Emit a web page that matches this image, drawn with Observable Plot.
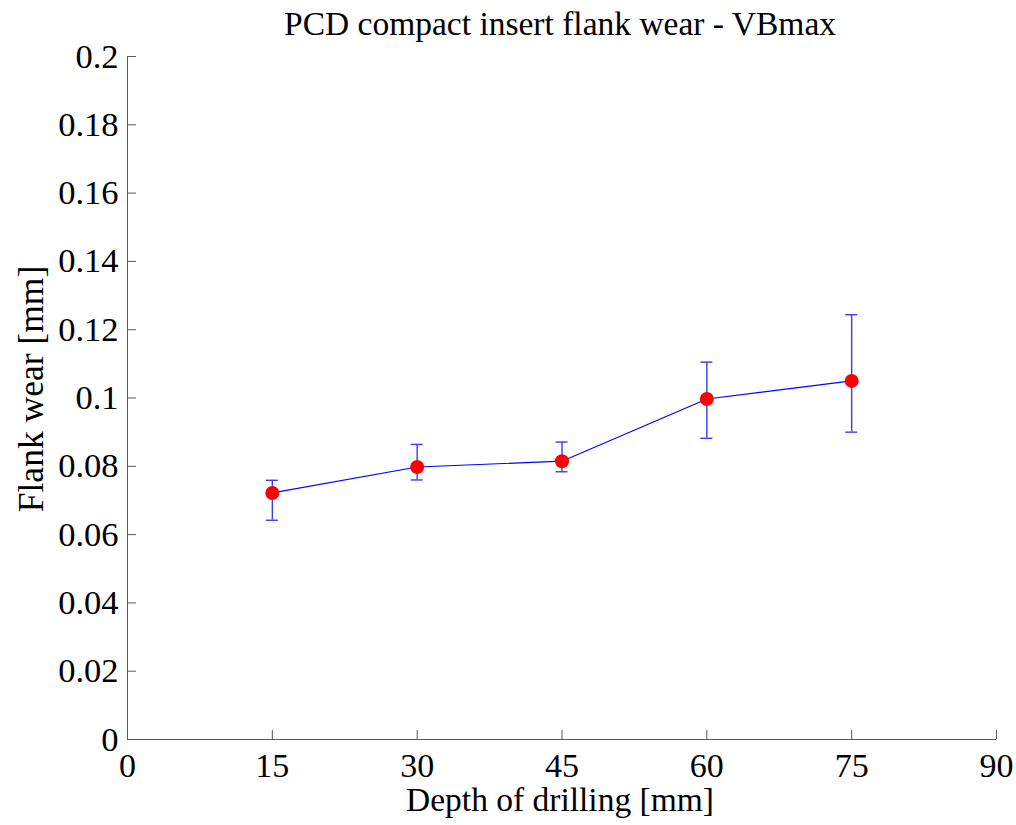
<!DOCTYPE html>
<html>
<head>
<meta charset="utf-8">
<script src="https://cdn.jsdelivr.net/npm/d3@7"></script>
<script src="https://cdn.jsdelivr.net/npm/@observablehq/plot@0.6"></script>
<style>
  body { margin: 0; background: #fff; }
  #chart { width: 1016px; }
</style>
</head>
<body>
<div id="chart"></div>
<script>
// Drilling depth [mm] and measured maximum flank wear VBmax [mm]
const depth = [15, 30, 45, 60, 75];
const wear = [0.0722, 0.0798, 0.0815, 0.0997, 0.1050];
const wearHigh = [0.0759, 0.0864, 0.0871, 0.1105, 0.1244];
const wearLow = [0.0642, 0.0760, 0.0784, 0.0882, 0.0900];

const xTicks = [0, 15, 30, 45, 60, 75, 90];
const yTicks = [0, 0.02, 0.04, 0.06, 0.08, 0.1, 0.12, 0.14, 0.16, 0.18, 0.2];

const titleText = "PCD compact insert flank wear - VBmax";
const xLabel = "Depth of drilling [mm]";
const yLabel = "Flank wear [mm]";

const rows = depth.map((d, i) => ({depth: d, wear: wear[i], hi: wearHigh[i], lo: wearLow[i]}));

const W = 1016, H = 825;
const mt = 56, mb = 86, ml = 127, mr = 20;
const innerW = W - ml - mr, innerH = H - mt - mb;
const tickLen = 9;
const axisColor = "#5a5a5a";
const serif = "Liberation Serif, Times New Roman, serif";

const chart = Plot.plot({
  width: W,
  height: H,
  marginTop: mt,
  marginBottom: mb,
  marginLeft: ml,
  marginRight: mr,
  style: {fontFamily: serif, fontSize: "34px", color: "#000", background: "#fff"},
  x: {domain: [0, 90]},
  y: {domain: [0, 0.2]},
  marks: [
    // axis lines (left and bottom only)
    Plot.ruleX([0], {stroke: axisColor, strokeWidth: 1}),
    Plot.ruleY([0], {stroke: axisColor, strokeWidth: 1}),
    // inward tick marks
    Plot.tickX(xTicks, {x: d => d, insetTop: innerH - tickLen, stroke: axisColor}),
    Plot.tickY(yTicks, {y: d => d, insetRight: innerW - tickLen, stroke: axisColor}),
    // tick labels
    Plot.axisX(xTicks, {tickSize: 0, tickPadding: 13, label: null, fontSize: 34, fill: "#000"}),
    Plot.axisY(yTicks, {tickSize: 0, tickPadding: 9, label: null, fontSize: 34.5, fill: "#000", tickFormat: d => String(d)}),
    // title and axis titles
    Plot.text([titleText], {frameAnchor: "top", textAnchor: "middle", lineAnchor: "bottom", dx: -2, dy: -22, fontSize: 33.5, fill: "#000"}),
    Plot.text([xLabel], {frameAnchor: "bottom", textAnchor: "middle", lineAnchor: "bottom", dx: -2, dy: 71, fontSize: 33.5, fill: "#000"}),
    Plot.text([yLabel], {frameAnchor: "left", textAnchor: "middle", lineAnchor: "middle", rotate: -90, dx: -96, dy: -9, fontSize: 35.5, fill: "#000"}),
    // error bars
    Plot.ruleX(rows, {x: "depth", y1: "lo", y2: "hi", stroke: "#3a3aff", strokeWidth: 1.4}),
    Plot.ruleY(rows, {y: "hi", x1: "depth", x2: "depth", insetLeft: -6, insetRight: -6, stroke: "#3a3aff", strokeWidth: 1.4}),
    Plot.ruleY(rows, {y: "lo", x1: "depth", x2: "depth", insetLeft: -6, insetRight: -6, stroke: "#3a3aff", strokeWidth: 1.4}),
    // mean line and markers
    Plot.line(rows, {x: "depth", y: "wear", stroke: "#0000ff", strokeWidth: 1.2}),
    Plot.dot(rows, {x: "depth", y: "wear", r: 7, fill: "#ff0000", stroke: "none"})
  ]
});

document.getElementById("chart").appendChild(chart);
</script>
</body>
</html>
